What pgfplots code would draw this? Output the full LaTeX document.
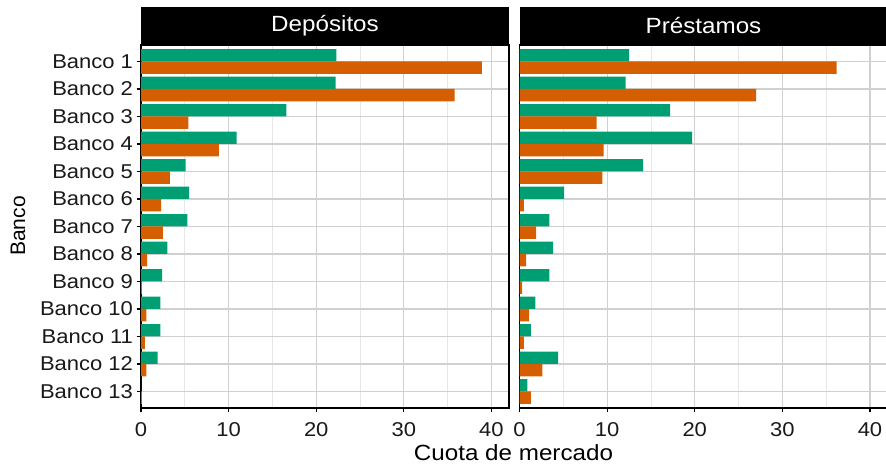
\documentclass[border=0pt]{standalone}
\usepackage{fontspec}
\setmainfont{Liberation Sans}[FakeStretch=1.1]
\newfontfamily\rotfont{Liberation Sans}
\usepackage{pgfplots}
\usepackage{pgfplotstable}
\pgfplotsset{compat=1.18}

\definecolor{verde}{HTML}{009E73}
\definecolor{naranja}{HTML}{D55E00}
\definecolor{gridmaj}{HTML}{D0D0D0}
\definecolor{gridmin}{HTML}{E6E6E6}

% cuota de mercado por banco (a = verde, b = naranja)
\pgfplotstableread{
banco a b
1 22.3 38.9
2 22.2 35.8
3 16.6 5.4
4 10.9 8.9
5 5.1 3.3
6 5.5 2.3
7 5.3 2.5
8 3.0 0.7
9 2.4 0.1
10 2.2 0.6
11 2.2 0.45
12 1.9 0.6
13 0 0.1
}\depositos

\pgfplotstableread{
banco a b
1 12.5 36.2
2 12.1 27.0
3 17.2 8.8
4 19.7 9.6
5 14.1 9.45
6 5.1 0.5
7 3.4 1.9
8 3.85 0.75
9 3.4 0.3
10 1.8 1.1
11 1.3 0.5
12 4.4 2.6
13 0.9 1.3
}\prestamos

\newcommand\ticksz{\fontsize{20bp}{22bp}\selectfont}
\newcommand\titsz{\fontsize{22bp}{24bp}\selectfont}

\pgfplotsset{
  layers/capas/.define layer set={axis background,axis grid,main,axis ticks,axis lines,axis tick labels,axis descriptions,axis foreground}{},
  panel/.style={
    set layers=capas,
    scale only axis, width=368bp, height=363bp,
    xmin=0, xmax=42, ymin=0.4, ymax=13.6, y dir=reverse,
    xtick={0,10,20,30,40}, minor xtick={5,15,25,35},
    ytick={1,...,13},
    xmajorgrids, xminorgrids, ymajorgrids,
    major grid style={gridmaj, line width=1.1bp},
    minor grid style={gridmin, line width=0.8bp},
    axis line style={black, line width=1.1bp},
    major tick style={black, line width=1.1bp},
    minor tick length=0pt,
    major tick length=4.5bp,
    tick align=outside,
    xtick pos=left, ytick pos=left,
    /pgf/number format/assume math mode=true,
    tick label style={font=\ticksz, text=black!90},
    xticklabel style={yshift=-7bp},
    every axis title/.style={at={(0.5,1)}, anchor=south, fill=black, text=white,
      minimum width=368bp, minimum height=38bp, inner sep=0pt, font=\titsz},
    xbar, bar width=0.45,
  },
}

\begin{document}
\begin{tikzpicture}
\begin{axis}[panel, at={(141bp,56bp)}, anchor=south west,
  title={Depósitos},
  yticklabels={Banco 1,Banco 2,Banco 3,Banco 4,Banco 5,Banco 6,Banco 7,Banco 8,Banco 9,Banco 10,Banco 11,Banco 12,Banco 13},
]
\addplot[fill=verde, draw=none, bar shift=-0.225] table[x=a, y=banco] {\depositos};
\addplot[fill=naranja, draw=none, bar shift=0.225] table[x=b, y=banco] {\depositos};
\end{axis}

\begin{axis}[panel, at={(519.5bp,56bp)}, anchor=south west,
  title={Préstamos},
  yticklabels={}, y tick style={draw=none},
]
\addplot[fill=verde, draw=none, bar shift=-0.225] table[x=a, y=banco] {\prestamos};
\addplot[fill=naranja, draw=none, bar shift=0.225] table[x=b, y=banco] {\prestamos};
\end{axis}

\node[anchor=base, font=\titsz] at (513.5bp,3.5bp) {Cuota de mercado};
\node[anchor=base, rotate=90, font=\rotfont\fontsize{21bp}{23bp}\selectfont] at (25bp,238bp) {Banco};

\pgfresetboundingbox
\path[use as bounding box] (0,0) rectangle (886bp,464bp);
\end{tikzpicture}
\end{document}
